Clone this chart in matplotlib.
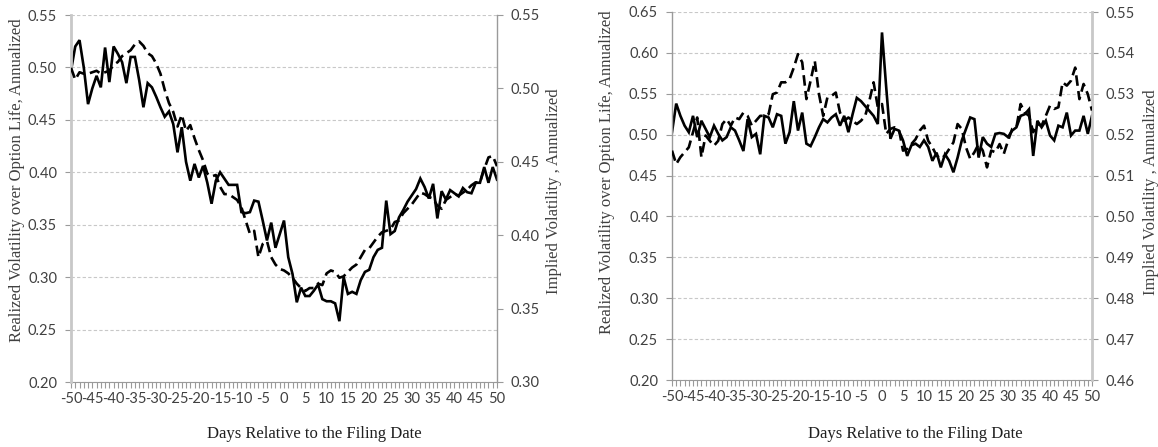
import numpy as np
import matplotlib
matplotlib.use("Agg")
import matplotlib.pyplot as plt
from matplotlib.ticker import MultipleLocator, FormatStrFormatter

plt.rcParams["axes.unicode_minus"] = False

# days relative to the filing date
days = list(range(-50, 51))

# left panel
rv_left = [
    0.497, 0.520, 0.526, 0.500, 0.465, 0.480, 0.492, 0.481, 0.519, 0.486,
    0.520, 0.513, 0.505, 0.485, 0.510, 0.510, 0.488, 0.462, 0.485, 0.481,
    0.472, 0.462, 0.453, 0.458, 0.446, 0.419, 0.443, 0.410, 0.392, 0.408,
    0.395, 0.406, 0.390, 0.370, 0.392, 0.400, 0.394, 0.388, 0.388, 0.388,
    0.362, 0.361, 0.362, 0.373, 0.372, 0.354, 0.335, 0.352, 0.328, 0.341,
    0.354, 0.319, 0.303, 0.276, 0.290, 0.282, 0.282, 0.287, 0.293, 0.279,
    0.277, 0.277, 0.275, 0.258, 0.300, 0.284, 0.286, 0.284, 0.297, 0.305,
    0.307, 0.319, 0.326, 0.328, 0.373, 0.341, 0.344, 0.357, 0.364, 0.372,
    0.378, 0.384, 0.394, 0.386, 0.375, 0.389, 0.356, 0.382, 0.374, 0.383,
    0.380, 0.377, 0.385, 0.381, 0.380, 0.390, 0.390, 0.405, 0.390, 0.405,
    0.393,
]
iv_left = [
    0.514, 0.506, 0.511, 0.510, 0.510, 0.511, 0.512, 0.510, 0.511, 0.512,
    0.516, 0.518, 0.522, 0.524, 0.526, 0.530, 0.532, 0.529, 0.524, 0.522,
    0.517, 0.510, 0.499, 0.490, 0.484, 0.474, 0.482, 0.471, 0.475, 0.466,
    0.458, 0.451, 0.442, 0.440, 0.441, 0.433, 0.428, 0.428, 0.426, 0.424,
    0.419, 0.410, 0.401, 0.403, 0.385, 0.394, 0.396, 0.385, 0.380, 0.377,
    0.376, 0.374, 0.371, 0.367, 0.364, 0.362, 0.364, 0.364, 0.367, 0.366,
    0.374, 0.376, 0.375, 0.371, 0.372, 0.375, 0.378, 0.380, 0.385, 0.390,
    0.391, 0.395, 0.399, 0.402, 0.403, 0.404, 0.409, 0.410, 0.415, 0.418,
    0.421, 0.425, 0.429, 0.428, 0.426, 0.425, 0.420, 0.418, 0.424, 0.426,
    0.428, 0.427, 0.429, 0.431, 0.434, 0.436, 0.436, 0.445, 0.453, 0.454,
    0.447,
]

# right panel
rv_right = [
    0.503, 0.538, 0.523, 0.511, 0.503, 0.523, 0.497, 0.517, 0.507, 0.497,
    0.511, 0.501, 0.493, 0.497, 0.509, 0.505, 0.493, 0.480, 0.519, 0.497,
    0.501, 0.476, 0.523, 0.521, 0.509, 0.525, 0.523, 0.489, 0.503, 0.541,
    0.505, 0.527, 0.489, 0.486, 0.497, 0.509, 0.519, 0.515, 0.521, 0.525,
    0.511, 0.523, 0.503, 0.525, 0.545, 0.541, 0.535, 0.529, 0.523, 0.513,
    0.625, 0.558, 0.495, 0.507, 0.505, 0.493, 0.474, 0.487, 0.489, 0.485,
    0.493, 0.485, 0.468, 0.478, 0.460, 0.476, 0.468, 0.454, 0.472, 0.493,
    0.507, 0.521, 0.519, 0.472, 0.497, 0.489, 0.485, 0.501, 0.502, 0.501,
    0.497, 0.505, 0.509, 0.523, 0.525, 0.531, 0.474, 0.517, 0.509, 0.517,
    0.499, 0.493, 0.511, 0.509, 0.527, 0.499, 0.505, 0.505, 0.523, 0.501,
    0.523,
]
iv_right = [
    0.5161, 0.5128, 0.5145, 0.5157, 0.5169, 0.5206, 0.5242, 0.5145, 0.5198, 0.5185,
    0.5173, 0.5185, 0.5226, 0.5238, 0.5222, 0.5242, 0.5238, 0.5254, 0.5246, 0.5222,
    0.5234, 0.5246, 0.5246, 0.5250, 0.5299, 0.5303, 0.5328, 0.5328, 0.5336, 0.5364,
    0.5397, 0.5377, 0.5287, 0.5332, 0.5380, 0.5299, 0.5246, 0.5291, 0.5295, 0.5303,
    0.5254, 0.5234, 0.5242, 0.5234, 0.5226, 0.5234, 0.5246, 0.5283, 0.5328, 0.5267,
    0.5275, 0.5202, 0.5214, 0.5218, 0.5214, 0.5161, 0.5165, 0.5177, 0.5189, 0.5210,
    0.5222, 0.5185, 0.5169, 0.5149, 0.5141, 0.5149, 0.5165, 0.5181, 0.5226, 0.5214,
    0.5169, 0.5141, 0.5157, 0.5177, 0.5161, 0.5120, 0.5161, 0.5157, 0.5177, 0.5153,
    0.5185, 0.5214, 0.5218, 0.5275, 0.5254, 0.5246, 0.5206, 0.5226, 0.5222, 0.5246,
    0.5271, 0.5263, 0.5267, 0.5328, 0.5320, 0.5332, 0.5364, 0.5287, 0.5324, 0.5299,
    0.5259,
]

tick_font = "Lato"
label_font = "Liberation Serif"
txt_col = "#404040"


def draw_panel(fig, rect, rv, iv, ylim_l, step_l, ylim_r, step_r,
               thick_left, ylab_l_pos, ylab_r_pos, xlab_pos):
    ax = fig.add_axes(rect)
    ax2 = ax.twinx()

    ax.plot(days, rv, color="black", lw=1.9, solid_joinstyle="miter", zorder=3)
    ax2.plot(days, iv, color="black", lw=1.9, dashes=(4.0, 2.0), zorder=3)

    ax.set_xlim(-50, 50)
    ax.set_ylim(*ylim_l)
    ax2.set_ylim(*ylim_r)
    ax.yaxis.set_major_locator(MultipleLocator(step_l))
    ax2.yaxis.set_major_locator(MultipleLocator(step_r))
    ax.yaxis.set_major_formatter(FormatStrFormatter("%.2f"))
    ax2.yaxis.set_major_formatter(FormatStrFormatter("%.2f"))
    ax.xaxis.set_major_locator(MultipleLocator(5))
    ax.xaxis.set_minor_locator(MultipleLocator(1))

    ax.grid(axis="y", color="#c8c8c8", ls=(0, (3, 2)), lw=0.8)
    ax.set_axisbelow(True)

    light, dark = "#c8c8c8", "#9a9a9a"
    for a in (ax, ax2):
        a.spines["top"].set_visible(False)
    ax2.spines["bottom"].set_visible(False)
    ax.spines["left"].set_visible(False)
    ax.spines["right"].set_visible(False)
    if thick_left:
        ax2.spines["left"].set_color(light)
        ax2.spines["left"].set_linewidth(2.0)
        ax2.spines["right"].set_color(dark)
        ax2.spines["right"].set_linewidth(1.0)
    else:
        ax2.spines["left"].set_color(dark)
        ax2.spines["left"].set_linewidth(1.0)
        ax2.spines["right"].set_color(light)
        ax2.spines["right"].set_linewidth(2.0)
    ax.spines["bottom"].set_color(dark)

    ax.tick_params(axis="x", which="both", length=4, width=0.8, color=dark,
                   labelsize=10.5, labelcolor=txt_col, pad=3)
    ax.tick_params(axis="y", length=4, width=0.8, color=dark,
                   labelsize=10.5, labelcolor=txt_col, pad=6)
    ax2.tick_params(axis="y", length=4, width=0.8, color=dark,
                    labelsize=10.5, labelcolor=txt_col, pad=6)
    for lab in ax.get_xticklabels() + ax.get_yticklabels() + ax2.get_yticklabels():
        lab.set_fontfamily(tick_font)

    ax.set_ylabel("Realized Volatility over Option Life, Annualized",
                  family=label_font, fontsize=12, color=txt_col)
    ax2.set_ylabel("Implied Volatility , Annualized",
                   family=label_font, fontsize=12, color=txt_col)
    ax.set_xlabel("Days Relative to the Filing Date",
                  family=label_font, fontsize=12, color="#202020")
    ax.yaxis.set_label_coords(*ylab_l_pos)
    ax2.yaxis.set_label_coords(*ylab_r_pos)
    ax.xaxis.set_label_coords(*xlab_pos)
    return ax, ax2


fig = plt.figure(figsize=(11.58, 4.47), dpi=100)

draw_panel(fig, [71 / 1158, 1 - 382 / 447, 426 / 1158, 367 / 447],
           rv_left, iv_left, (0.20, 0.55), 0.05, (0.30, 0.55), 0.05,
           True, (-0.108, 0.55), (1.115, 0.52), (0.57, -0.12))

draw_panel(fig, [672 / 1158, 1 - 380 / 447, 420 / 1158, 368 / 447],
           rv_right, iv_right, (0.20, 0.65), 0.05, (0.46, 0.55), 0.01,
           False, (-0.136, 0.565), (1.121, 0.51), (0.58, -0.125))

plt.savefig("out.png", dpi=100)
